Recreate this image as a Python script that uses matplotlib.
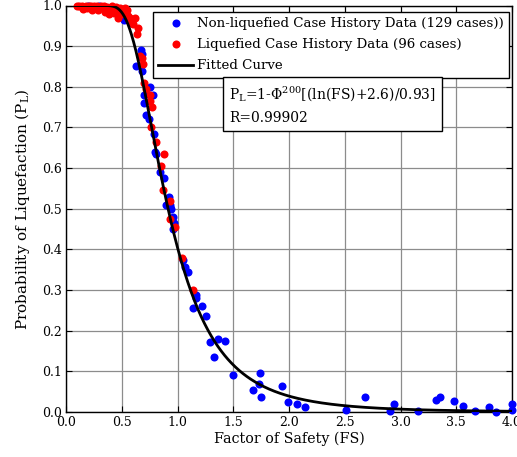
import math
import numpy as np
import matplotlib
matplotlib.use("Agg")
import matplotlib.pyplot as plt
from matplotlib.lines import Line2D

# ---------------- data ----------------
nonliq_fs = [0.20, 0.30, 0.35, 0.40, 0.45, 0.48, 0.52, 0.68, 0.67, 0.63, 0.68,
             0.75, 0.70, 0.78, 0.70, 0.72, 0.74, 0.79, 0.80, 0.81, 0.84, 0.88,
             0.92, 0.93, 0.94, 0.90, 0.93, 0.96, 0.97, 0.96, 1.05, 1.07, 1.09,
             1.17, 1.17, 1.14, 1.22, 1.26, 1.29, 1.36, 1.43, 1.33, 1.50, 1.74,
             1.73, 1.68, 1.75, 1.94, 1.99, 2.07, 2.14, 2.51, 2.68, 2.91, 2.94,
             3.16, 3.32, 3.35, 3.48, 3.56, 3.67, 3.79, 3.86, 4.00, 4.00]
nonliq_pl = [1.000, 1.000, 0.995, 0.990, 0.985, 0.977, 0.965, 0.880, 0.890, 0.850, 0.840,
             0.800, 0.780, 0.780, 0.760, 0.730, 0.720, 0.685, 0.640, 0.635, 0.590, 0.575,
             0.530, 0.510, 0.500, 0.510, 0.505, 0.480, 0.465, 0.450, 0.375, 0.357, 0.345,
             0.288, 0.280, 0.255, 0.260, 0.235, 0.173, 0.180, 0.175, 0.136, 0.091, 0.096,
             0.070, 0.055, 0.038, 0.064, 0.025, 0.020, 0.013, 0.005, 0.036, 0.003, 0.020,
             0.002, 0.030, 0.038, 0.028, 0.015, 0.002, 0.012, 0.000, 0.020, 0.005]

liq_fs = [0.10, 0.12, 0.14, 0.16, 0.18, 0.19, 0.21, 0.22, 0.24, 0.25, 0.27, 0.28,
          0.30, 0.31, 0.33, 0.34, 0.36, 0.37, 0.39, 0.40, 0.41, 0.42, 0.44, 0.45,
          0.47, 0.48, 0.50, 0.52, 0.54, 0.56, 0.57, 0.59, 0.58, 0.60, 0.62, 0.64,
          0.65, 0.66, 0.68, 0.69, 0.70, 0.72, 0.75, 0.75, 0.77, 0.76, 0.81, 0.88,
          0.85, 0.87, 0.93, 0.93, 0.98, 1.04, 1.14,
          0.15, 0.23, 0.29, 0.35, 0.43, 0.49, 0.53, 0.55]
liq_pl = [1.000, 0.998, 1.000, 0.997, 1.000, 0.995, 0.998, 1.000, 0.994, 0.999, 0.996, 1.000,
          0.993, 0.998, 0.995, 1.000, 0.990, 0.997, 0.980, 0.995, 1.000, 0.990, 0.985, 0.997,
          0.970, 0.995, 0.990, 0.985, 0.980, 0.975, 0.970, 0.965, 0.958, 0.955, 0.970, 0.930,
          0.945, 0.875, 0.870, 0.855, 0.810, 0.795, 0.780, 0.765, 0.750, 0.700, 0.665, 0.635,
          0.605, 0.545, 0.520, 0.475, 0.455, 0.380, 0.300,
          0.992, 0.990, 0.988, 0.985, 0.982, 0.978, 0.995, 0.990]

# fitted curve parameters shown on the chart: P_L = 1 - Phi^n[(ln(FS)+a)/b]
fit_a = 2.6
fit_b = 0.93
fit_n = 200

x_ticks = [0.0, 0.5, 1.0, 1.5, 2.0, 2.5, 3.0, 3.5, 4.0]
y_ticks = [0.0, 0.1, 0.2, 0.3, 0.4, 0.5, 0.6, 0.7, 0.8, 0.9, 1.0]

# ---------------- plot ----------------
plt.rcParams['font.family'] = ['DejaVu Serif']
plt.rcParams['mathtext.fontset'] = 'dejavuserif'

fig = plt.figure(figsize=(5.17, 4.57), dpi=100)
ax = fig.add_axes([66/517, 1 - 412/457, 446/517, 406.5/457])

fs_curve = np.linspace(0.001, 4.0, 800)
phi = np.array([0.5 * (1 + math.erf(((math.log(f) + fit_a) / fit_b) / math.sqrt(2))) for f in fs_curve])
pl_curve = 1 - phi ** fit_n

ax.plot(nonliq_fs, nonliq_pl, 'o', color='#0000ff', markersize=5.8, markeredgewidth=0,
        clip_on=False, zorder=3)
ax.plot(liq_fs, liq_pl, 'o', color='#ff0000', markersize=5.8, markeredgewidth=0,
        clip_on=False, zorder=4)
ax.plot(fs_curve, pl_curve, '-', color='black', lw=2.0, zorder=5)

ax.set_xlim(0, 4)
ax.set_ylim(0, 1)
ax.set_xticks(x_ticks)
ax.set_yticks(y_ticks)
ax.set_xticklabels([f"{v:.1f}" for v in x_ticks])
ax.set_yticklabels([f"{v:.1f}" for v in y_ticks])
ax.tick_params(direction='in', top=True, right=True, length=4, width=0.8,
               labelsize=9, pad=3)
ax.grid(True, color='#8c8c8c', lw=0.9)
ax.set_axisbelow(True)
for s in ax.spines.values():
    s.set_linewidth(1.0)

ax.set_xlabel("Factor of Safety (FS)", fontsize=10.3, labelpad=2)
ax.set_ylabel("Probability of Liquefaction (P$_\\mathregular{L}$)", fontsize=11, labelpad=7)

handles = [
    Line2D([], [], marker='o', ls='none', color='#0000ff', markersize=5.8, markeredgewidth=0),
    Line2D([], [], marker='o', ls='none', color='#ff0000', markersize=5.8, markeredgewidth=0),
    Line2D([], [], color='black', lw=2.0),
]
labels = ["Non-liquefied Case History Data (129 cases))",
          "Liquefied Case History Data (96 cases)",
          "Fitted Curve"]
leg = ax.legend(handles, labels, loc='upper left', bbox_to_anchor=((153-66)/446, (412-12)/406.5),
                fontsize=9.6, frameon=True, fancybox=False, edgecolor='black',
                framealpha=1, borderpad=0.4, labelspacing=0.6, handlelength=2.6,
                handletextpad=0.3, borderaxespad=0)
leg.get_frame().set_linewidth(1.0)
leg.set_zorder(10)

ax.text((229-66)/446, (412-85)/406.5,
        "P$_\\mathregular{L}$=1-\u03a6$^\\mathregular{200}$[(ln(FS)+2.6)/0.93]\nR=0.99902",
        transform=ax.transAxes, fontsize=10, va='top', ha='left', linespacing=1.6,
        bbox=dict(boxstyle='square,pad=0.45', fc='white', ec='black', lw=1.0), zorder=11)

fig.savefig("out.png", dpi=100)
